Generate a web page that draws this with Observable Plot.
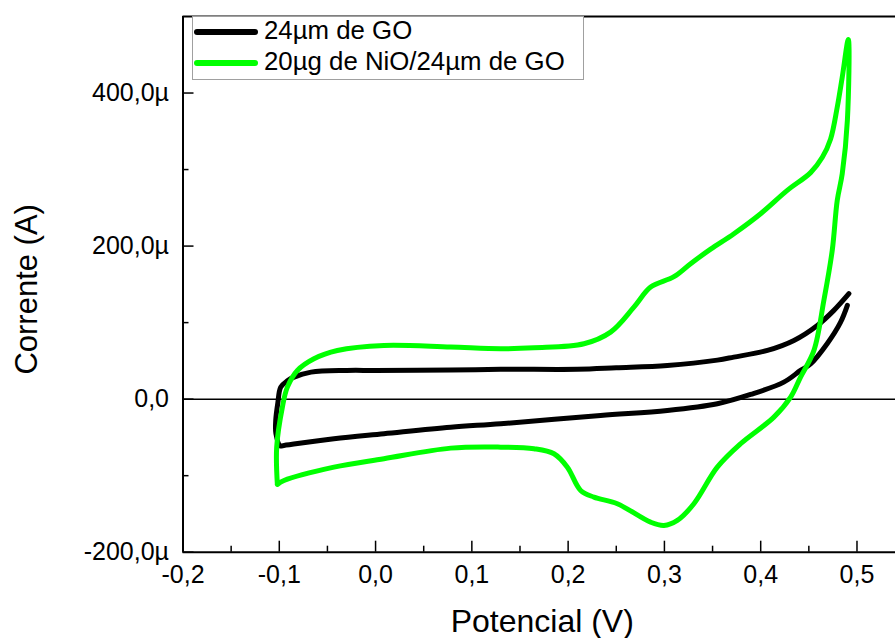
<!DOCTYPE html>
<html>
<head>
<meta charset="utf-8">
<script src="https://cdn.jsdelivr.net/npm/d3@7"></script>
<script src="https://cdn.jsdelivr.net/npm/@observablehq/plot@0.6"></script>
<style>
  html, body { margin: 0; padding: 0; background: white; }
  #wrap { position: relative; width: 895px; height: 638px; overflow: hidden; font-family: "Liberation Sans", Arial, sans-serif; }
  #legend { position: absolute; left: 192px; top: 16px; width: 392px; height: 64px; box-sizing: border-box; border: 1px solid #a0a0a0; background: white; }
  .lg-line { position: absolute; left: 1px; width: 64px; height: 6px; border-radius: 3px; }
  .lg-text { position: absolute; left: 71px; font-size: 25.8px; line-height: 25.8px; white-space: nowrap; color: black; }
</style>
</head>
<body>
<div id="wrap"></div>
<script>
// Series names and colours
const seriesNames = ["24µm de GO", "20µg de NiO/24µm de GO"];
const seriesColors = ["#000000", "#00ff00"];

// 24µm de GO (black): potential (V) and current (µA), in drawing order
const goV = [0.490, 0.483, 0.469, 0.4518, 0.4414, 0.424, 0.3895, 0.355, 0.303, 0.2337, 0.13, 0.078, 0.0087, -0.0432, -0.0951, -0.099,
             -0.1035, -0.1037, -0.1015, -0.0985, -0.0916, -0.0847, -0.067, -0.03, 0.0, 0.078, 0.13, 0.2096, 0.25, 0.303, 0.355, 0.372, 0.407, 0.4345, 0.4588, 0.476, 0.4916];
const goI = [122.5, 100.6, 72.4, 46, 37.5, 22.2, 6.1, -6, -14.8, -21.3, -32.2, -36.6, -45.2, -51.8, -60.5, -61,
             -45, -28, -5, 15.7, 24, 28.8, 35.3, 37.5, 37.5, 38, 39, 39, 41, 44, 51, 54.9, 63.7, 76.7, 96.3, 116, 137.8];

// 20µg de NiO/24µm de GO (green): potential (V) and current (µA), in drawing order
const nioV = [-0.102, -0.1027, -0.0968, -0.0916, -0.0812, -0.064, -0.0397, 0.0087, 0.078, 0.13, 0.1645, 0.2164, 0.2441, 0.2683, 0.2857, 0.3099, 0.3272, 0.348, 0.3722, 0.3999, 0.4276, 0.4518, 0.464, 0.4726, 0.4795, 0.4847, 0.491,
              0.49, 0.4847, 0.4795, 0.4743, 0.4656, 0.4553, 0.4414, 0.4311, 0.4137, 0.3791, 0.3549, 0.3306, 0.3134, 0.2995, 0.2857, 0.2511, 0.2268, 0.213, 0.1992, 0.1853, 0.1645, 0.13, 0.078, 0.0087, -0.0432, -0.0951, -0.102];
const nioI = [-111.5, -62.7, -10.5, 15.7, 37.5, 52.8, 63.6, 70.2, 68, 65.9, 67.2, 72.4, 87.6, 120.2, 146.4, 160, 177, 196, 216.2, 242.3, 272.8, 296, 316, 340, 381.6, 420.9, 470,
              364, 294.6, 259.7, 194.4, 129, 63.7, 28.8, 2.6, -23.5, -58.3, -88.9, -136.7, -158.5, -165, -160.8, -136.7, -128, -119.3, -88.9, -71.4, -64.8, -62.7, -64, -77.9, -88.9, -106.3, -111.5];

// Axis ticks
const xMajor = [-0.2, -0.1, 0.0, 0.1, 0.2, 0.3, 0.4, 0.5];
const xMinor = [-0.15, -0.05, 0.05, 0.15, 0.25, 0.35, 0.45];
const yMajor = [-200, 0, 200, 400];
const yMinor = [-100, 100, 300];
const xDomain = [-0.2, 0.54];
const yDomain = [-200, 500];
const xTitle = "Potencial (V)";
const yTitle = "Corrente (A)";

const goData = goV.map((v, k) => ({v, i: goI[k]}));
const nioData = nioV.map((v, k) => ({v, i: nioI[k]}));

const fmtX = d => d.toFixed(1).replace(".", ",");
const fmtY = d => d === 0 ? "0,0" : d.toFixed(1).replace(".", ",") + "µ";

const chart = Plot.plot({
  width: 895,
  height: 638,
  marginLeft: 182.5,
  marginRight: 0,
  marginTop: 16,
  marginBottom: 86.3,
  style: {fontFamily: "'Liberation Sans', Arial, sans-serif", background: "white", color: "black", overflow: "visible"},
  x: {domain: xDomain},
  y: {domain: yDomain},
  marks: [
    Plot.ruleY([0], {y: d => d, stroke: "black", strokeWidth: 1.5}),
    Plot.line(goData, {x: "v", y: "i", stroke: seriesColors[0], strokeWidth: 5, curve: "catmull-rom", strokeLinejoin: "round", strokeLinecap: "round"}),
    Plot.line(nioData, {x: "v", y: "i", stroke: seriesColors[1], strokeWidth: 5, curve: "catmull-rom", strokeLinejoin: "round", strokeLinecap: "round"}),
    // frame
    Plot.ruleX([xDomain[0]], {x: d => d, stroke: "black", strokeWidth: 2}),
    Plot.ruleY([yDomain[0]], {y: d => d, stroke: "black", strokeWidth: 2}),
    Plot.ruleY([yDomain[1]], {y: d => d, stroke: "black", strokeWidth: 2}),
    // inward ticks
    Plot.ruleX(xMajor, {x: d => d, y1: yDomain[0], y2: yDomain[0], insetTop: -11, stroke: "black", strokeWidth: 1.5}),
    Plot.ruleX(xMinor, {x: d => d, y1: yDomain[0], y2: yDomain[0], insetTop: -6, stroke: "black", strokeWidth: 1.5}),
    Plot.ruleY(yMajor, {y: d => d, x1: xDomain[0], x2: xDomain[0], insetRight: -11, stroke: "black", strokeWidth: 1.5}),
    Plot.ruleY(yMinor, {y: d => d, x1: xDomain[0], x2: xDomain[0], insetRight: -6, stroke: "black", strokeWidth: 1.5}),
    // tick labels
    Plot.axisX({ticks: xMajor, tickSize: 0, tickPadding: 13, tickFormat: fmtX, fontSize: 25, label: null}),
    Plot.axisY({ticks: yMajor, tickSize: 0, tickPadding: 14, tickFormat: fmtY, fontSize: 25, label: null}),
    // axis titles
    Plot.text([xTitle], {text: d => d, frameAnchor: "bottom", textAnchor: "middle", lineAnchor: "middle", dx: 3, dy: 70, fontSize: 32, fill: "black"}),
    Plot.text([yTitle], {text: d => d, frameAnchor: "left", textAnchor: "middle", lineAnchor: "middle", rotate: -90, dx: -155.5, dy: 5, fontSize: 31, fill: "black"})
  ]
});

const wrap = document.getElementById("wrap");
wrap.appendChild(chart);

// Legend
const legend = document.createElement("div");
legend.id = "legend";
seriesNames.forEach((name, k) => {
  const ln = document.createElement("div");
  ln.className = "lg-line";
  ln.style.top = (12 + k * 31) + "px";
  ln.style.background = seriesColors[k];
  legend.appendChild(ln);
  const tx = document.createElement("div");
  tx.className = "lg-text";
  tx.style.top = (1 + k * 31) + "px";
  tx.textContent = name;
  legend.appendChild(tx);
});
wrap.appendChild(legend);
</script>
</body>
</html>
